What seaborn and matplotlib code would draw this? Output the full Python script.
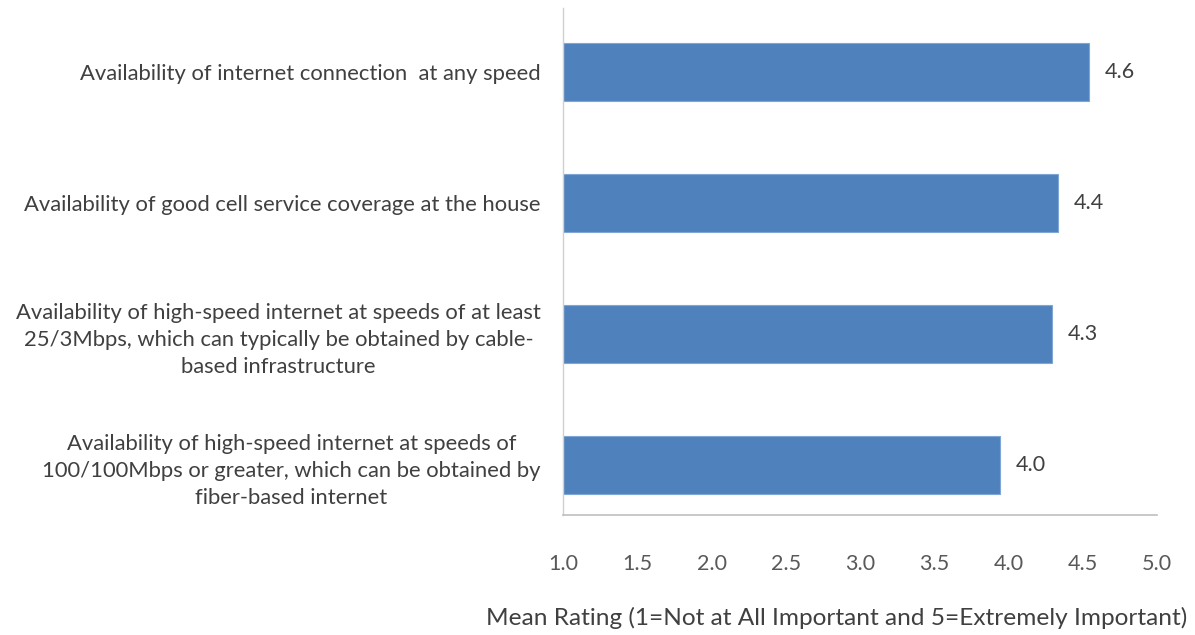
import matplotlib
matplotlib.use("Agg")
import matplotlib.pyplot as plt
import seaborn as sns
import pandas as pd

# data
categories = [
    "Availability of internet connection  at any speed",
    "Availability of good cell service coverage at the house",
    "Availability of high-speed internet at speeds of at least\n25/3Mbps, which can typically be obtained by cable-\nbased infrastructure",
    "Availability of high-speed internet at speeds of\n100/100Mbps or greater, which can be obtained by\nfiber-based internet",
]
mean_rating = [4.54, 4.33, 4.29, 3.94]
value_labels = ["4.6", "4.4", "4.3", "4.0"]
x_ticks = [1.0, 1.5, 2.0, 2.5, 3.0, 3.5, 4.0, 4.5, 5.0]

df = pd.DataFrame({"category": categories, "rating": mean_rating})

sns.set_style("white")
plt.rcParams["font.family"] = ["Lato", "DejaVu Sans"]

fig = plt.figure(figsize=(11.95, 6.35), dpi=100)
ax = fig.add_axes([563 / 1195, 1 - 515 / 635, (1157 - 563) / 1195, (515 - 8) / 635])

# Excel-style bars start at the axis minimum (1.0)
base = x_ticks[0]
sns.barplot(data=df.assign(width=df["rating"] - base), x="width", y="category",
            left=base, color="#4F81BD", saturation=1, width=0.44,
            edgecolor="#7FA6D4", linewidth=0.8, ax=ax, orient="h")

for i, (v, lab) in enumerate(zip(mean_rating, value_labels)):
    ax.text(v + 0.11, i, lab, va="center", ha="left", fontsize=15.5, color="#404040")

ax.set_xlim(x_ticks[0], x_ticks[-1])
ax.set_ylim(3.38, -0.49)
ax.set_xticks(x_ticks)
ax.set_xticklabels([f"{t:.1f}" for t in x_ticks])
ax.tick_params(axis="x", labelsize=15.5, labelcolor="#595959", length=0, pad=28)
ax.tick_params(axis="y", labelsize=15.8, labelcolor="#404040", length=0, pad=16)
for t in ax.get_yticklabels():
    t.set_multialignment("center")
    t.set_linespacing(1.45)

ax.set_ylabel("")
ax.set_xlabel("")
for s in ["top", "right"]:
    ax.spines[s].set_visible(False)
ax.spines["left"].set_color("#D0D0D0")
ax.spines["bottom"].set_color("#BFBFBF")
ax.spines["left"].set_linewidth(1)
ax.spines["bottom"].set_linewidth(1.2)

fig.text(1187 / 1195, 1 - 618 / 635, "Mean Rating (1=Not at All Important and 5=Extremely Important)",
         ha="right", va="center", fontsize=17.6, color="#404040")

fig.savefig("out.png", dpi=100, facecolor="white")
